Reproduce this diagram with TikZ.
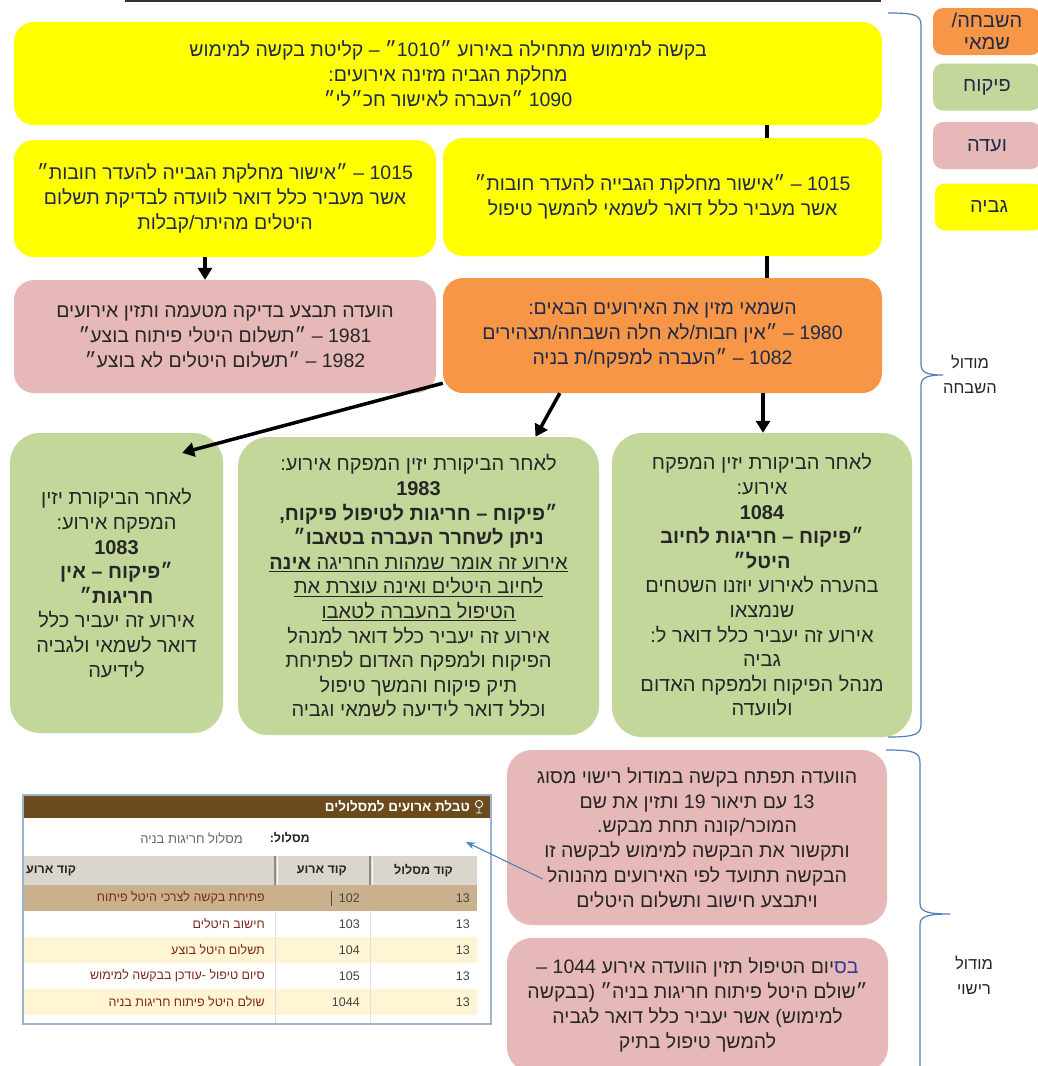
\documentclass[tikz,border=0pt]{standalone}
\usepackage{fontspec}
\setmainfont[Script=Hebrew]{Liberation Sans}
\TeXXeTstate=1
\usetikzlibrary{arrows.meta}
% one right-to-left line
\newcommand\rl[1]{\beginR#1\endR}
% coloured fragment set through the font itself, so no colour specials get reordered
\newcommand\tint[2]{{\addfontfeature{Color=#1}#2}}

\definecolor{gviya}{HTML}{FFFF00}
\definecolor{shvach}{HTML}{F79646}
\definecolor{pikuach}{HTML}{C4D79B}
\definecolor{vaada}{HTML}{E6B9B8}
\definecolor{navy}{HTML}{1F2A4A}
\definecolor{ink}{HTML}{262626}
\definecolor{bracecol}{HTML}{4F81BD}
\definecolor{tblbrown}{HTML}{6B4A1C}
\definecolor{tblhead}{HTML}{DAD6CE}
\definecolor{tblsel}{HTML}{C9B18E}
\definecolor{tblalt}{HTML}{FFF5D5}
\definecolor{tbltext}{HTML}{7B2A1A}
\definecolor{tblnum}{HTML}{444444}
\definecolor{tblframe}{HTML}{9DB3CF}

\begin{document}
\begin{tikzpicture}[x=1pt,y=-1pt,
  box/.style={rounded corners=20pt, align=center, inner sep=0pt,
    font=\fontsize{19.5}{24.8}\selectfont},
  ybox/.style={box, fill=gviya, text=navy},
  obox/.style={box, fill=shvach, text=navy},
  pbox/.style={box, fill=vaada, text=ink},
  gbox/.style={box, fill=pikuach, text=ink, rounded corners=30pt,
    font=\fontsize{20}{24.6}\selectfont},
  legend/.style={rounded corners=10pt, align=center, inner sep=0pt,
    minimum width=108pt, minimum height=47pt, text=navy,
    font=\fontsize{20}{22}\selectfont},
  lnk/.style={line width=3.5pt, draw=black},
  arr/.style={lnk, -{Triangle[length=12pt,width=14pt]}},
  bracket/.style={draw=bracecol, line width=1.2pt},
  modlabel/.style={align=center, text=ink, font=\fontsize{16.5}{25}\selectfont},
  tcell/.style={anchor=east, inner sep=0pt, font=\fontsize{12.5}{14}\selectfont},
  thead/.style={tcell, text=ink, font=\fontsize{12.5}{14}\selectfont\bfseries},
]
\useasboundingbox (0,0) rectangle (1038,1066);
\fill[white] (0,0) rectangle (1038,1066);

% rule along the top edge
\draw[line width=2pt, color=black!80] (125,1) -- (881,1);

% ---- flow boxes ----
\node[ybox, minimum width=868pt, minimum height=103pt] (top) at (448,73.5)
  {\rl{בקשה למימוש מתחילה באירוע ״1010״ – קליטת בקשה למימוש}\\
   \rl{מחלקת הגביה מזינה אירועים:}\\
   \rl{1090 ״העברה לאישור חכ״לי״}};

\node[ybox, minimum width=422pt, minimum height=117pt] (yl) at (225,198.5)
  {\rl{1015 – ״אישור מחלקת הגבייה להעדר חובות״}\\
   \rl{אשר מעביר כלל דואר לוועדה לבדיקת תשלום}\\
   \rl{היטלים מהיתר/קבלות}};

\node[ybox, minimum width=439pt, minimum height=118pt] (yr) at (662.5,197)
  {\rl{1015 – ״אישור מחלקת הגבייה להעדר חובות״}\\
   \rl{אשר מעביר כלל דואר לשמאי להמשך טיפול}};

\node[pbox, minimum width=422pt, minimum height=113pt] (pk) at (225,336.5)
  {\rl{הועדה תבצע בדיקה מטעמה ותזין אירועים}\\
   \rl{1981 – ״תשלום היטלי פיתוח בוצע״}\\
   \rl{1982 – ״תשלום היטלים לא בוצע״}};

\node[obox, minimum width=439pt, minimum height=115pt] (or) at (662.5,335.5)
  {\rl{השמאי מזין את האירועים הבאים:}\\
   \rl{1980 – ״אין חבות/לא חלה השבחה/תצהירים}\\
   \rl{1082 – ״העברה למפקח/ת בניה}};

\node[gbox, minimum width=213pt, minimum height=300pt] (g1) at (116.5,583)
  {\rl{לאחר הביקורת יזין}\\
   \rl{המפקח אירוע:}\\
   \rl{\bfseries 1083}\\
   \rl{\bfseries ״פיקוח – אין}\\
   \rl{\bfseries חריגות״}\\
   \rl{אירוע זה יעביר כלל}\\
   \rl{דואר לשמאי ולגביה}\\
   \rl{לידיעה}};

\node[gbox, minimum width=361pt, minimum height=298pt] (g2) at (418.5,586)
  {\rl{לאחר הביקורת יזין המפקח אירוע:}\\
   \rl{\bfseries 1983}\\
   \rl{\bfseries ״פיקוח – חריגות לטיפול פיקוח,}\\
   \rl{\bfseries ניתן לשחרר העברה בטאבו״}\\
   \underline{\rl{אירוע זה אומר שמהות החריגה {\bfseries אינה}}}\\
   \underline{\rl{לחיוב היטלים ואינה עוצרת את}}\\
   \underline{\rl{הטיפול בהעברה לטאבו}}\\
   \rl{אירוע זה יעביר כלל דואר למנהל}\\
   \rl{הפיקוח ולמפקח האדום לפתיחת}\\
   \rl{תיק פיקוח והמשך טיפול}\\
   \rl{וכלל דואר לידיעה לשמאי וגביה}};

\node[gbox, minimum width=300pt, minimum height=304pt] (g3) at (762,585)
  {\rl{לאחר הביקורת יזין המפקח}\\
   \rl{אירוע:}\\
   \rl{\bfseries 1084}\\
   \rl{\bfseries ״פיקוח – חריגות לחיוב}\\
   \rl{\bfseries היטל״}\\
   \rl{בהערה לאירוע יוזנו השטחים}\\
   \rl{שנמצאו}\\
   \rl{אירוע זה יעביר כלל דואר ל:}\\
   \rl{גביה}\\
   \rl{מנהל הפיקוח ולמפקח האדום}\\
   \rl{ולוועדה}};

\node[pbox, rounded corners=25pt, minimum width=380pt, minimum height=175pt] (pb1) at (697,837.5)
  {\rl{הוועדה תפתח בקשה במודול רישוי מסוג}\\
   \rl{13 עם תיאור 19 ותזין את שם}\\
   \rl{המוכר/קונה תחת מבקש.}\\
   \rl{ותקשור את הבקשה למימוש לבקשה זו}\\
   \rl{הבקשה תתועד לפי האירועים מהנוהל}\\
   \rl{ויתבצע חישוב ותשלום היטלים}};

\node[pbox, rounded corners=25pt, minimum width=381pt, minimum height=134pt] (pb2) at (697.5,1005)
  {\rl{\tint{2E3A9A}{בס}יום הטיפול תזין הוועדה אירוע 1044 –}\\
   \rl{״שולם היטל פיתוח חריגות בניה״ (בבקשה}\\
   \rl{למימוש)  אשר יעביר כלל דואר לגביה}\\
   \rl{להמשך טיפול בתיק}};

% ---- connectors ----
\coordinate (spine) at (767,0);
\coordinate (spinelow) at (763,0);
\coordinate (lcol) at (205,0);
\draw[lnk] (top.south -| spine) -- (yr.north -| spine);
\draw[lnk] (yr.south -| spine) -- (or.north -| spine);
\draw[arr] (or.south -| spinelow) -- (g3.north -| spinelow);
\draw[arr] (yl.south -| lcol) -- (pk.north -| lcol);
\draw[arr] ([xshift=117pt]or.south west) -- ([xshift=117pt]g2.north);
\draw[arr] ([yshift=10pt]or.south west) -- ([xshift=-41pt,yshift=-20pt]g1.north east);

% ---- legend ----
\node[legend, fill=shvach] (lgS) at (987,31.5) {\rl{השבחה/}\\\rl{שמאי}};
\node[legend, fill=pikuach] (lgP) at (987,87) {\rl{פיקוח}};
\node[legend, fill=vaada] (lgV) at (987,145.5) {\rl{ועדה}};
\node[legend, fill=gviya] (lgG) at (989,207) {\rl{גביה}};

% ---- module brackets ----
\draw[bracket] (888,13) .. controls (916,13) and (921,15) .. (921,26)
  -- (921,364) .. controls (921,372) and (926,375) .. (943,375)
  .. controls (926,375) and (921,378) .. (921,386)
  -- (921,724) .. controls (921,734) and (916,737) .. (888,737);
\node[modlabel] (modA) at (970,374) {\rl{מודול}\\\rl{השבחה}};

\draw[bracket] (886,750) .. controls (914,750) and (920,752) .. (920,763)
  -- (920,903) .. controls (920,911) and (925,914) .. (950,914)
  .. controls (925,914) and (920,917) .. (920,925)
  -- (920,1070);
\node[modlabel] (modB) at (974,975) {\rl{מודול}\\\rl{רישוי}};

% ---- event table screenshot ----
\fill[white] (23,795) rectangle (491,1024);
\fill[tblbrown] (23,795) rectangle (491,818);
\node[tcell, text=white, font=\fontsize{13.5}{14}\selectfont\bfseries] (ttitle) at (470,806.5) {\rl{טבלת ארועים למסלולים}};
\draw[white, line width=0.9pt] (479,804) circle (3.6pt) (479,807.6) -- (479,813) (476,813) -- (482,813);
\node[thead] (tlab) at (310,838) {\rl{מסלול:}};
\node[tcell, text=black!60, font=\fontsize{13}{14}\selectfont] (tval) at (243,838) {\rl{מסלול חריגות בניה}};

\fill[tblhead] (23,856) rectangle (477,885);
\draw[black!45, line width=1.2pt] (275,856) -- (275,885) (370,856) -- (370,885);
\draw[white, line width=0.8pt] (277,857) -- (277,885) (372,857) -- (372,885);
\node[thead] (h1) at (453,871) {\rl{קוד מסלול}};
\node[thead] (h2) at (347,871) {\rl{קוד ארוע}};
\node[thead, anchor=west] (h3) at (26,871) {\rl{קוד ארוע}};

\fill[tblsel] (23,885) rectangle (477,911);
\fill[tblalt] (23,937) rectangle (477,963);
\fill[tblalt] (23,989) rectangle (477,1015);
\draw[black!12, line width=0.8pt] (275,911) -- (275,1024) (370,911) -- (370,1024);
\draw[black!70, line width=0.8pt] (331,891) -- (331,906);

\node[tcell, text=tblnum] (r1a) at (470,898) {13};
\node[tcell, text=tblnum] (r1b) at (360,898) {102};
\node[tcell, text=tbltext] (r1c) at (265,898) {\rl{פתיחת בקשה לצרכי היטל פיתוח}};
\node[tcell, text=tblnum] (r2a) at (470,924) {13};
\node[tcell, text=tblnum] (r2b) at (360,924) {103};
\node[tcell, text=tbltext] (r2c) at (265,924) {\rl{חישוב היטלים}};
\node[tcell, text=tblnum] (r3a) at (470,950) {13};
\node[tcell, text=tblnum] (r3b) at (360,950) {104};
\node[tcell, text=tbltext] (r3c) at (265,950) {\rl{תשלום היטל בוצע}};
\node[tcell, text=tblnum] (r4a) at (470,976) {13};
\node[tcell, text=tblnum] (r4b) at (360,976) {105};
\node[tcell, text=tbltext] (r4c) at (265,976) {\rl{סיום טיפול -עודכן בבקשה למימוש}};
\node[tcell, text=tblnum] (r5a) at (470,1002) {13};
\node[tcell, text=tblnum] (r5b) at (360,1002) {1044};
\node[tcell, text=tbltext] (r5c) at (265,1002) {\rl{שולם היטל פיתוח חריגות בניה}};
\draw[tblframe, line width=1.2pt] (23,795) rectangle (491,1024);

% link from the licensing request to the table
\coordinate (tblpin) at (466,842);
\draw[bracecol, line width=1.1pt, -{Stealth[length=9pt,width=7pt]}]
  ([xshift=36pt,yshift=-41.5pt]pb1.west) -- (tblpin);
\end{tikzpicture}
\end{document}
